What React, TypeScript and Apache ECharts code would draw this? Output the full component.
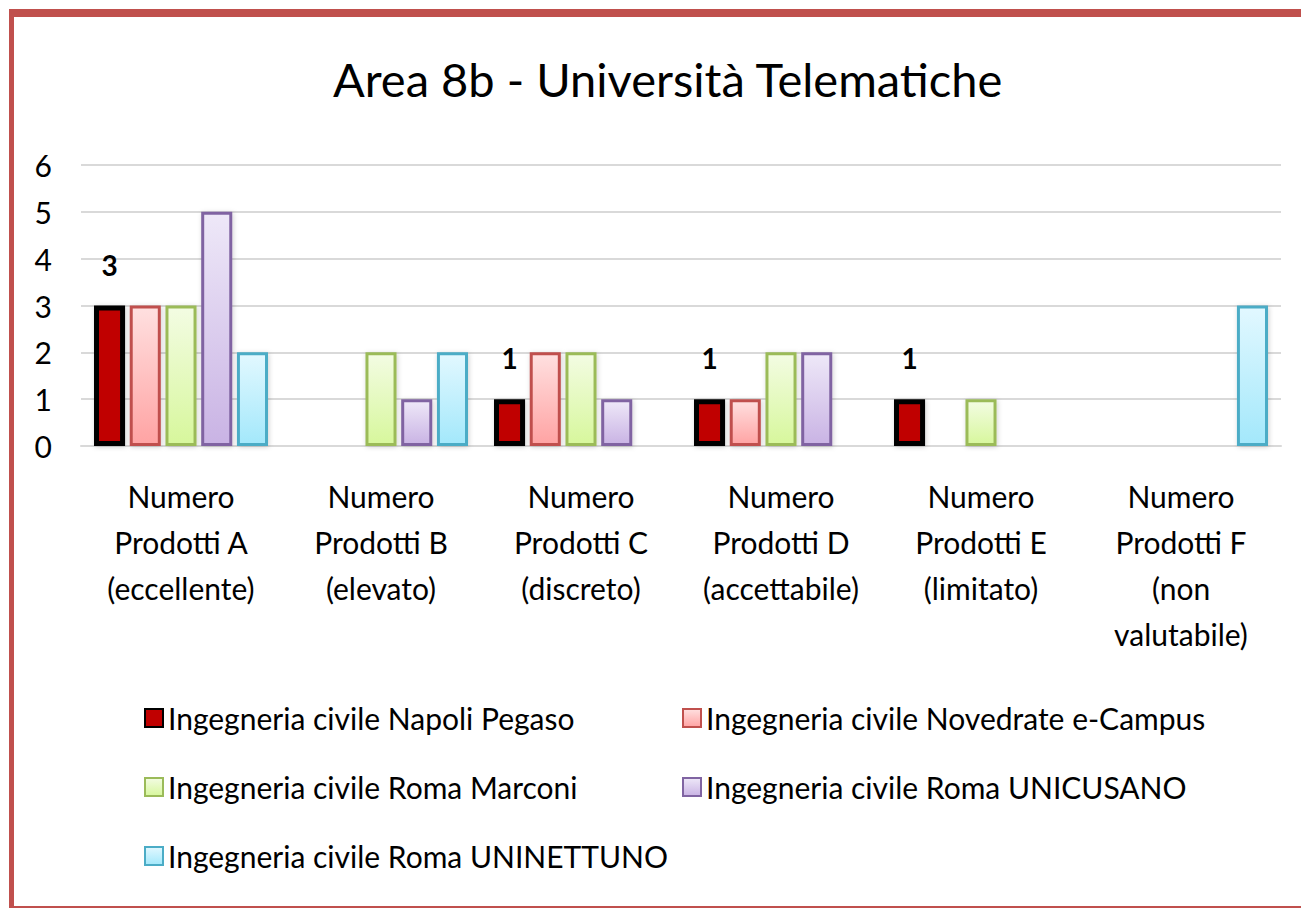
import React, { useEffect, useRef } from "react";
import * as echarts from "echarts";

const title = "Area 8b - Università Telematiche";
const categories = [
  "Numero\nProdotti A\n(eccellente)",
  "Numero\nProdotti B\n(elevato)",
  "Numero\nProdotti C\n(discreto)",
  "Numero\nProdotti D\n(accettabile)",
  "Numero\nProdotti E\n(limitato)",
  "Numero\nProdotti F\n(non\nvalutabile)",
];
const seriesNames = [
  "Ingegneria civile Napoli Pegaso",
  "Ingegneria civile Novedrate e-Campus",
  "Ingegneria civile Roma Marconi",
  "Ingegneria civile Roma UNICUSANO",
  "Ingegneria civile Roma UNINETTUNO",
];
const napoliPegaso = [3, 0, 1, 1, 1, 0];
const novedrateECampus = [3, 0, 2, 1, 0, 0];
const romaMarconi = [3, 2, 2, 2, 1, 0];
const romaUnicusano = [5, 1, 1, 2, 0, 0];
const romaUninettuno = [2, 2, 0, 0, 0, 3];
const yTicks = [0, 1, 2, 3, 4, 5, 6];

const FONT = "Lato, 'Open Sans', sans-serif";

const styles = [
  { top: "#C00000", bottom: "#C00000", border: "#000000", bw: 5 },
  { top: "#FFE0E0", bottom: "#FFA3A3", border: "#C0504D", bw: 3 },
  { top: "#F3FCE3", bottom: "#D7F79C", border: "#9BBB59", bw: 3 },
  { top: "#EEE8F8", bottom: "#C9B3E4", border: "#8064A2", bw: 3 },
  { top: "#E2F8FF", bottom: "#A3E8FB", border: "#4BACC6", bw: 3 },
];

const legendPos = [
  { left: 139, top: 698 },
  { left: 677, top: 698 },
  { left: 139, top: 767 },
  { left: 677, top: 767 },
  { left: 139, top: 836 },
];

export default function App() {
  const ref = useRef<HTMLDivElement>(null);
  useEffect(() => {
    document.body.style.margin = "0";
    const chart = echarts.init(ref.current!, null, { renderer: "svg" });
    const datasets = [napoliPegaso, novedrateECampus, romaMarconi, romaUnicusano, romaUninettuno];
    const series = datasets.map((d, i) => ({
      name: seriesNames[i],
      type: "bar",
      barCategoryGap: "13%",
      barGap: "15%",
      data: d.map((v) => (v === 0 ? "-" : v)),
      itemStyle: {
        color: new echarts.graphic.LinearGradient(0, 0, 0, 1, [
          { offset: 0, color: styles[i].top },
          { offset: 1, color: styles[i].bottom },
        ]),
        borderColor: styles[i].border,
        borderWidth: styles[i].bw,
        shadowBlur: 5,
        shadowColor: "rgba(0,0,0,0.18)",
        shadowOffsetX: 1,
        shadowOffsetY: 1,
      },
      label:
        i === 0
          ? {
              show: true,
              position: "top",
              distance: 27,
              fontFamily: FONT,
              fontSize: 28,
              fontWeight: "bold",
              color: "#000",
            }
          : { show: false },
    }));
    const legends = seriesNames.map((n, i) => ({
      data: [n],
      left: legendPos[i].left,
      top: legendPos[i].top,
      itemWidth: 18,
      itemHeight: 18,
      icon: "rect",
      selectedMode: false,
      textStyle: { fontFamily: FONT, fontSize: 30, color: "#000" },
    }));
    chart.setOption({
      animation: false,
      backgroundColor: "#fff",
      title: {
        text: title,
        left: 328,
        top: 50,
        textStyle: { fontFamily: FONT, fontSize: 47, fontWeight: "normal", color: "#000" },
      },
      legend: legends,
      grid: { left: 81, right: 20, top: 165, bottom: 462, containLabel: false },
      xAxis: {
        type: "category",
        data: categories,
        axisLine: { show: true, lineStyle: { color: "#D9D9D9", width: 2 } },
        axisTick: { show: false },
        axisLabel: {
          interval: 0,
          margin: 27,
          fontFamily: FONT,
          fontSize: 30,
          lineHeight: 46,
          color: "#000",
        },
      },
      yAxis: {
        type: "value",
        min: yTicks[0],
        max: yTicks[yTicks.length - 1],
        interval: 1,
        axisLine: { show: false },
        axisTick: { show: false },
        splitLine: { lineStyle: { color: "#D9D9D9", width: 2 } },
        axisLabel: { margin: 29, fontFamily: FONT, fontSize: 30, color: "#000" },
      },
      graphic: [
        { type: "rect", shape: { x: 9, y: 9, width: 1292, height: 8 }, style: { fill: "#C0504D" } },
        { type: "rect", shape: { x: 9, y: 9, width: 5, height: 899 }, style: { fill: "#C0504D" } },
        { type: "rect", shape: { x: 9, y: 906, width: 1292, height: 2 }, style: { fill: "#C0504D" } },
      ],
      series,
    });
    return () => chart.dispose();
  }, []);
  return <div ref={ref} style={{ width: 1301, height: 908 }} />;
}
